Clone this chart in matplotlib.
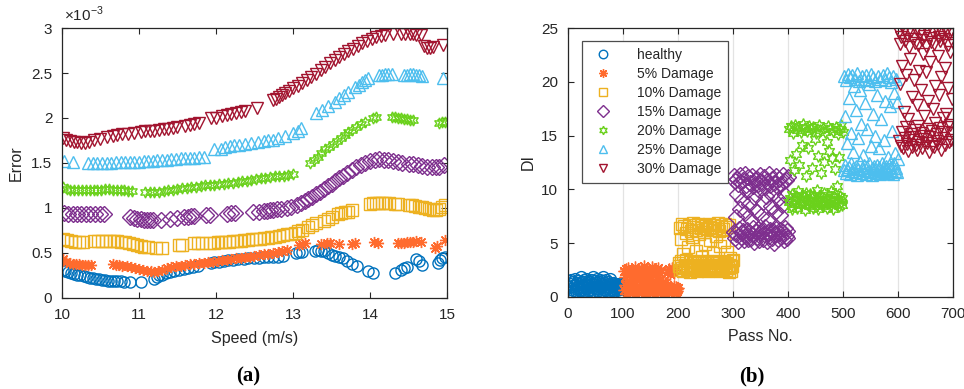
import numpy as np
import matplotlib
matplotlib.use("Agg")
import matplotlib.pyplot as plt
from matplotlib.ticker import FuncFormatter

plt.rcParams['font.family'] = ['Liberation Sans', 'DejaVu Sans']

# series names, colours and markers (MATLAB style)
labels = ["healthy", "5% Damage", "10% Damage", "15% Damage",
          "20% Damage", "25% Damage", "30% Damage"]
colors = ["#0072BD", "#FF6B2E", "#EDB120", "#7E2F8E",
          "#6AD11B", "#4DBEEE", "#A2142F"]
markers = ["o", (8, 2, 0), "s", "D", (6, 1, 0), "^", "v"]

# (a) prediction error against vehicle speed, error in units of 1e-3
speed_h = [10.01, 10.04, 10.08, 10.12, 10.16, 10.2, 10.24, 10.28, 10.32, 10.36,
           10.4, 10.44, 10.48, 10.52, 10.56, 10.6, 10.64, 10.68, 10.72, 10.76,
           10.8, 10.88, 11.03, 11.2, 11.23, 11.26, 11.3, 11.35, 11.4, 11.46,
           11.52, 11.58, 11.64, 11.7, 11.77, 11.94, 11.98, 12.04, 12.1, 12.16,
           12.22, 12.28, 12.36, 12.42, 12.5, 12.56, 12.62, 12.68, 12.74, 12.8,
           12.87, 13.04, 13.08, 13.12, 13.28, 13.32, 13.36, 13.4, 13.45, 13.5,
           13.55, 13.6, 13.65, 13.7, 13.76, 13.83, 13.97, 14.04, 14.32, 14.4,
           14.44, 14.48, 14.6, 14.63, 14.67, 14.88, 14.91, 14.94, 14.97]
err_h = [0.31, 0.30, 0.29, 0.28, 0.27, 0.26, 0.25, 0.24, 0.23, 0.22,
         0.22, 0.21, 0.21, 0.20, 0.20, 0.19, 0.19, 0.19, 0.19, 0.19,
         0.18, 0.18, 0.18, 0.21, 0.23, 0.25, 0.26, 0.28, 0.29, 0.30,
         0.31, 0.32, 0.33, 0.34, 0.35, 0.39, 0.40, 0.40, 0.41, 0.42,
         0.42, 0.43, 0.43, 0.44, 0.44, 0.44, 0.45, 0.45, 0.46, 0.46,
         0.47, 0.50, 0.51, 0.51, 0.52, 0.53, 0.52, 0.52, 0.50, 0.48,
         0.47, 0.46, 0.44, 0.41, 0.38, 0.35, 0.30, 0.28, 0.28, 0.31,
         0.33, 0.34, 0.43, 0.41, 0.37, 0.39, 0.42, 0.44, 0.46]

speed_5 = [10.01, 10.05, 10.1, 10.14, 10.18, 10.22, 10.26, 10.3, 10.34, 10.38,
           10.66, 10.7, 10.74, 10.78, 10.84, 10.9, 10.95, 11.0, 11.05, 11.1,
           11.15, 11.2, 11.25, 11.3, 11.36, 11.42, 11.48, 11.54, 11.6, 11.66,
           11.72, 11.78, 11.84, 11.9, 11.96, 12.02, 12.08, 12.14, 12.2, 12.26,
           12.32, 12.38, 12.44, 12.5, 12.56, 12.62, 12.68, 12.74, 12.8, 12.86,
           12.92, 13.08, 13.12, 13.16, 13.37, 13.44, 13.48, 13.6, 13.76, 13.8,
           14.05, 14.1, 14.36, 14.4, 14.44, 14.48, 14.52, 14.56, 14.6, 14.66,
           14.84, 14.87, 14.97]
err_5 = [0.43, 0.40, 0.39, 0.38, 0.38, 0.38, 0.37, 0.37, 0.37, 0.37,
         0.38, 0.37, 0.37, 0.36, 0.35, 0.34, 0.33, 0.32, 0.31, 0.30,
         0.30, 0.29, 0.30, 0.31, 0.33, 0.34, 0.35, 0.36, 0.37, 0.38,
         0.38, 0.39, 0.39, 0.40, 0.40, 0.41, 0.42, 0.42, 0.43, 0.44,
         0.44, 0.45, 0.46, 0.47, 0.48, 0.49, 0.49, 0.50, 0.51, 0.52,
         0.53, 0.59, 0.60, 0.61, 0.60, 0.61, 0.61, 0.60, 0.60, 0.61,
         0.62, 0.61, 0.61, 0.61, 0.61, 0.62, 0.62, 0.62, 0.63, 0.62,
         0.56, 0.58, 0.64]

speed_10 = [10.01, 10.06, 10.12, 10.17, 10.22, 10.27, 10.42, 10.47, 10.52, 10.57,
            10.62, 10.67, 10.72, 10.77, 10.82, 10.87, 10.92, 10.97, 11.02, 11.07,
            11.12, 11.22, 11.3, 11.52, 11.56, 11.72, 11.77, 11.82, 11.92, 11.97,
            12.02, 12.07, 12.12, 12.17, 12.22, 12.27, 12.32, 12.37, 12.42, 12.47,
            12.52, 12.57, 12.62, 12.67, 12.72, 12.77, 12.82, 12.87, 12.92, 12.97,
            13.02, 13.07, 13.12, 13.2, 13.25, 13.3, 13.4, 13.45, 13.5, 13.58,
            13.62, 13.67, 13.72, 13.77, 14.0, 14.04, 14.08, 14.12, 14.16, 14.2,
            14.25, 14.32, 14.36, 14.5, 14.54, 14.58, 14.63, 14.67, 14.72, 14.77,
            14.82, 14.86, 14.9, 14.94, 14.98]
err_10 = [0.66, 0.64, 0.63, 0.62, 0.62, 0.62, 0.63, 0.63, 0.63, 0.63,
          0.63, 0.63, 0.63, 0.62, 0.62, 0.61, 0.60, 0.59, 0.58, 0.57,
          0.57, 0.56, 0.56, 0.59, 0.59, 0.61, 0.61, 0.61, 0.61, 0.61,
          0.62, 0.62, 0.62, 0.62, 0.63, 0.63, 0.63, 0.64, 0.64, 0.65,
          0.66, 0.66, 0.67, 0.67, 0.68, 0.68, 0.69, 0.70, 0.71, 0.71,
          0.72, 0.74, 0.75, 0.79, 0.81, 0.83, 0.86, 0.88, 0.90, 0.93,
          0.94, 0.95, 0.96, 0.98, 1.04, 1.05, 1.05, 1.05, 1.05, 1.05,
          1.05, 1.04, 1.04, 1.03, 1.03, 1.02, 1.01, 1.01, 1.00, 0.99,
          0.98, 0.98, 0.99, 1.01, 1.03]

speed_15 = [10.03, 10.08, 10.14, 10.19, 10.25, 10.31, 10.37, 10.43, 10.49, 10.55,
            10.88, 10.93, 10.98, 11.02, 11.06, 11.1, 11.14, 11.18, 11.28, 11.4,
            11.5, 11.58, 11.63, 11.67, 11.72, 11.87, 11.92, 12.14, 12.19, 12.25,
            12.48, 12.56, 12.62, 12.66, 12.7, 12.74, 12.79, 12.85, 12.92, 12.97,
            13.05, 13.1, 13.15, 13.2, 13.25, 13.3, 13.35, 13.4, 13.45, 13.5,
            13.55, 13.6, 13.65, 13.7, 13.76, 13.82, 13.88, 13.94, 14.0, 14.06,
            14.12, 14.18, 14.24, 14.3, 14.36, 14.42, 14.5, 14.56, 14.62, 14.68,
            14.74, 14.8, 14.86, 14.9, 14.96]
err_15 = [0.94, 0.93, 0.93, 0.93, 0.93, 0.93, 0.93, 0.93, 0.93, 0.93,
          0.90, 0.89, 0.88, 0.88, 0.87, 0.87, 0.87, 0.87, 0.87, 0.88,
          0.89, 0.90, 0.90, 0.91, 0.91, 0.92, 0.92, 0.93, 0.94, 0.94,
          0.96, 0.96, 0.97, 0.97, 0.98, 0.98, 0.99, 0.99, 1.00, 1.01,
          1.03, 1.05, 1.08, 1.10, 1.12, 1.15, 1.18, 1.21, 1.24, 1.27,
          1.30, 1.33, 1.36, 1.39, 1.42, 1.45, 1.48, 1.50, 1.52, 1.53,
          1.54, 1.53, 1.53, 1.52, 1.51, 1.50, 1.49, 1.49, 1.48, 1.47,
          1.46, 1.45, 1.45, 1.46, 1.48]

speed_20 = [10.01, 10.06, 10.11, 10.16, 10.21, 10.26, 10.31, 10.36, 10.41, 10.46,
            10.51, 10.56, 10.61, 10.66, 10.71, 10.76, 10.81, 10.86, 10.91, 11.08,
            11.14, 11.2, 11.26, 11.32, 11.38, 11.44, 11.5, 11.56, 11.62, 11.68,
            11.74, 11.8, 11.86, 11.92, 11.98, 12.04, 12.1, 12.16, 12.22, 12.28,
            12.34, 12.4, 12.46, 12.52, 12.58, 12.64, 12.7, 12.76, 12.82, 12.88,
            12.94, 13.0, 13.22, 13.27, 13.32, 13.37, 13.42, 13.47, 13.52, 13.57,
            13.62, 13.67, 13.72, 13.77, 13.82, 13.88, 13.94, 14.04, 14.08, 14.28,
            14.32, 14.36, 14.4, 14.44, 14.48, 14.52, 14.56, 14.9, 14.94, 14.98]
err_20 = [1.23, 1.21, 1.20, 1.20, 1.20, 1.20, 1.20, 1.20, 1.20, 1.20,
          1.20, 1.21, 1.21, 1.20, 1.20, 1.20, 1.20, 1.19, 1.19, 1.18,
          1.18, 1.18, 1.18, 1.19, 1.20, 1.20, 1.21, 1.22, 1.22, 1.23,
          1.23, 1.24, 1.25, 1.26, 1.26, 1.27, 1.27, 1.28, 1.28, 1.29,
          1.30, 1.30, 1.31, 1.32, 1.33, 1.33, 1.34, 1.35, 1.35, 1.36,
          1.37, 1.38, 1.50, 1.53, 1.57, 1.61, 1.65, 1.68, 1.71, 1.74,
          1.78, 1.81, 1.84, 1.87, 1.90, 1.93, 1.96, 2.00, 2.01, 2.01,
          2.01, 2.00, 2.00, 1.99, 1.99, 1.98, 1.98, 1.94, 1.95, 1.96]

speed_25 = [10.02, 10.14, 10.34, 10.4, 10.46, 10.52, 10.58, 10.64, 10.7, 10.76,
            10.82, 10.88, 10.94, 11.0, 11.06, 11.12, 11.18, 11.24, 11.3, 11.36,
            11.42, 11.48, 11.54, 11.6, 11.66, 11.72, 11.78, 11.84, 11.98, 12.06,
            12.12, 12.18, 12.24, 12.3, 12.38, 12.46, 12.54, 12.62, 12.68, 12.74,
            12.8, 12.9, 13.0, 13.06, 13.1, 13.3, 13.38, 13.46, 13.54, 13.6,
            13.66, 13.72, 13.8, 13.86, 13.9, 13.94, 13.98, 14.12, 14.16, 14.2,
            14.24, 14.28, 14.44, 14.48, 14.52, 14.56, 14.6, 14.64, 14.68, 14.95]
err_25 = [1.52, 1.51, 1.50, 1.50, 1.50, 1.50, 1.50, 1.50, 1.51, 1.51,
          1.51, 1.51, 1.51, 1.51, 1.52, 1.52, 1.52, 1.53, 1.53, 1.53,
          1.54, 1.54, 1.55, 1.55, 1.56, 1.56, 1.57, 1.57, 1.65, 1.66,
          1.68, 1.69, 1.70, 1.70, 1.71, 1.72, 1.73, 1.74, 1.75, 1.76,
          1.78, 1.80, 1.83, 1.86, 1.89, 2.05, 2.09, 2.13, 2.18, 2.22,
          2.26, 2.29, 2.34, 2.37, 2.40, 2.42, 2.44, 2.48, 2.48, 2.49,
          2.49, 2.49, 2.48, 2.48, 2.49, 2.49, 2.48, 2.48, 2.47, 2.45]

speed_30 = [10.01, 10.05, 10.1, 10.15, 10.2, 10.25, 10.3, 10.35, 10.42, 10.5,
            10.58, 10.66, 10.72, 10.78, 10.86, 10.94, 11.02, 11.08, 11.14, 11.2,
            11.26, 11.32, 11.38, 11.44, 11.5, 11.6, 11.66, 11.72, 11.78, 11.94,
            12.0, 12.08, 12.14, 12.2, 12.26, 12.32, 12.38, 12.53, 12.74, 12.78,
            12.82, 12.86, 12.9, 12.95, 13.0, 13.06, 13.12, 13.18, 13.24, 13.3,
            13.36, 13.42, 13.48, 13.54, 13.6, 13.66, 13.72, 13.78, 13.84, 13.9,
            13.96, 14.02, 14.08, 14.14, 14.2, 14.3, 14.4, 14.46, 14.52, 14.56,
            14.6, 14.66, 14.7, 14.74, 14.78, 14.82, 14.95]
err_30 = [1.78, 1.75, 1.74, 1.73, 1.73, 1.72, 1.72, 1.73, 1.76, 1.77,
          1.79, 1.80, 1.81, 1.82, 1.82, 1.83, 1.84, 1.85, 1.85, 1.86,
          1.87, 1.88, 1.88, 1.89, 1.90, 1.91, 1.92, 1.93, 1.94, 2.00,
          2.00, 2.02, 2.03, 2.04, 2.05, 2.07, 2.08, 2.11, 2.20, 2.21,
          2.23, 2.25, 2.28, 2.30, 2.33, 2.36, 2.39, 2.42, 2.46, 2.49,
          2.53, 2.57, 2.61, 2.64, 2.68, 2.71, 2.74, 2.77, 2.80, 2.83,
          2.86, 2.88, 2.90, 2.91, 2.92, 2.93, 2.93, 2.93, 2.93, 2.93,
          2.92, 2.92, 2.80, 2.78, 2.78, 2.79, 2.81]

# (b) damage index per pass, 100 passes per damage state
di_h = [0.9, 1.5, 0.4, 1.2, 0.7, 1.6, 0.3, 1.0, 1.4, 0.6, 0.2, 1.1, 1.7, 0.5, 0.8, 1.3, 0.4, 1.5, 0.9, 0.3,
        1.2, 0.6, 1.8, 0.7, 1.0, 0.4, 1.4, 0.9, 1.6, 0.5, 1.1, 0.3, 1.7, 0.8, 1.3, 0.6, 1.5, 0.2, 1.0, 1.4,
        0.7, 1.6, 0.4, 1.2, 0.9, 1.8, 0.5, 1.1, 1.5, 0.3, 1.3, 0.8, 1.7, 0.6, 1.0, 1.4, 0.4, 1.6, 0.9, 1.2,
        0.5, 1.5, 0.7, 1.8, 0.3, 1.1, 1.3, 0.6, 1.6, 0.8, 1.0, 0.4, 1.4, 0.9, 1.2, 0.5, 1.7, 0.7, 1.1, 0.6,
        1.3, 0.8, 1.0, 0.5, 1.2, 0.9, 1.1, 0.7, 1.0, 0.6, 1.2, 0.8, 0.9, 1.1, 0.7, 1.0, 0.8, 1.2, 0.9, 1.0]
di_5 = [2.4, 0.6, 1.8, 1.1, 2.6, 0.3, 1.5, 2.1, 0.8, 2.7, 1.3, 0.5, 2.2, 1.7, 0.9, 2.5, 0.4, 1.2, 2.0, 0.7,
        2.8, 1.4, 0.3, 1.9, 2.3, 1.0, 0.6, 2.6, 1.6, 0.4, 2.1, 1.2, 2.7, 0.8, 1.5, 2.4, 0.5, 1.8, 2.9, 1.1,
        0.3, 2.2, 1.4, 2.6, 0.7, 1.9, 2.5, 1.0, 0.4, 2.3, 1.7, 2.8, 0.6, 1.3, 2.0, 0.9, 2.6, 1.5, 0.2, 2.4,
        1.1, 0.5, 1.8, 2.7, 0.8, 1.6, 2.2, 0.4, 1.2, 2.5, 0.7, 1.4, 0.3, 1.0, 0.6, 1.3, 0.4, 0.9, 0.5, 1.1,
        0.7, 2.3, 0.4, 2.6, 0.9, 2.1, 0.6, 2.4, 0.8, 2.7, 0.5, 2.2, 1.0, 2.5, 0.6, 0.9, 0.4, 0.7, 0.5, 0.8]
di_10 = [2.9, 3.1, 6.4, 2.5, 5.4, 3.3, 2.7, 6.8, 4.0, 2.4, 6.6, 3.0, 2.8, 5.9, 3.4, 2.6, 6.3, 4.6, 2.9, 6.7,
         3.2, 2.3, 6.1, 2.8, 5.6, 3.0, 6.9, 2.5, 3.3, 6.5, 2.7, 4.3, 6.2, 3.1, 2.4, 6.8, 2.9, 5.8, 3.2, 2.6,
         6.4, 3.0, 3.7, 6.7, 2.8, 2.5, 6.0, 3.1, 4.9, 6.6, 2.7, 3.3, 6.3, 2.4, 2.9, 6.8, 3.0, 5.3, 6.5, 2.6,
         3.2, 6.2, 2.8, 4.1, 6.7, 3.0, 2.5, 6.4, 2.9, 5.7, 3.1, 6.9, 2.7, 3.3, 6.1, 2.4, 4.7, 6.6, 2.8, 3.0,
         6.3, 2.6, 3.2, 5.1, 2.9, 6.8, 2.5, 3.1, 6.5, 4.2, 2.7, 2.3, 6.7, 3.0, 3.6, 2.8, 2.4, 3.3, 2.9, 3.4]
di_15 = [6.0, 11.2, 5.5, 10.8, 7.4, 5.8, 11.0, 9.6, 5.2, 10.5, 6.3, 8.2, 11.3, 5.6, 10.7, 5.9, 9.0, 6.1, 10.9, 5.3,
         7.8, 11.4, 5.7, 10.4, 6.2, 9.8, 5.4, 11.1, 6.0, 8.6, 10.6, 5.5, 7.1, 11.2, 5.8, 10.3, 6.4, 9.3, 5.1, 10.9,
         6.0, 8.0, 11.0, 5.6, 10.5, 6.3, 9.9, 5.3, 11.3, 5.9, 7.5, 10.7, 6.1, 8.8, 5.4, 11.1, 5.8, 10.2, 6.5, 9.4,
         5.2, 10.8, 6.0, 7.2, 11.4, 5.7, 10.4, 6.2, 8.4, 5.5, 11.0, 6.1, 9.7, 5.0, 10.6, 5.8, 7.9, 11.2, 6.3, 10.3,
         5.4, 9.1, 5.9, 11.0, 6.2, 7.6, 10.5, 5.6, 8.5, 11.3, 6.0, 5.3, 10.8, 6.4, 9.5, 5.7, 10.9, 6.1, 5.5, 11.1]
di_20 = [8.8, 15.6, 9.2, 12.7, 8.4, 15.9, 9.6, 8.2, 15.2, 11.8, 9.0, 16.0, 8.6, 13.3, 9.4, 15.5, 8.3, 9.8, 15.8, 12.3,
         8.7, 9.1, 15.3, 8.5, 14.1, 9.5, 16.1, 8.9, 9.3, 15.7, 8.1, 11.2, 9.7, 15.4, 8.6, 9.0, 13.8, 15.9, 8.4, 9.6,
         8.8, 15.6, 9.2, 12.0, 8.3, 15.8, 9.5, 8.7, 14.7, 9.0, 15.2, 8.5, 9.9, 13.1, 8.2, 16.0, 9.4, 8.9, 15.5, 11.5,
         8.6, 9.3, 15.7, 8.4, 12.5, 9.7, 15.3, 8.8, 9.1, 14.4, 8.3, 15.9, 9.5, 8.7, 13.6, 9.0, 15.6, 8.5, 9.8, 12.9,
         8.2, 15.4, 9.3, 8.9, 11.9, 9.6, 15.8, 8.6, 10.3, 9.1, 15.1, 8.4, 13.0, 9.4, 15.6, 8.8, 16.0, 9.2, 8.5, 15.3]
di_25 = [11.8, 20.5, 12.3, 16.8, 11.5, 20.2, 14.3, 11.9, 20.7, 12.1, 18.5, 11.4, 20.4, 15.2, 12.4, 11.7, 20.6, 13.5, 12.0, 19.6,
         11.6, 20.3, 17.4, 12.2, 11.3, 20.8, 14.8, 11.9, 20.1, 12.5, 19.2, 11.5, 16.1, 20.5, 12.0, 11.8, 13.2, 20.3, 12.3, 18.0,
         11.4, 20.6, 12.1, 15.6, 11.7, 20.2, 12.4, 19.8, 11.6, 14.0, 20.7, 12.0, 11.3, 17.0, 20.4, 12.2, 11.9, 15.0, 20.1, 11.5,
         12.3, 18.8, 11.8, 20.5, 13.8, 12.1, 11.4, 20.3, 16.5, 12.4, 11.7, 20.6, 12.0, 14.6, 11.6, 20.2, 18.2, 12.2, 11.9, 20.8,
         13.0, 11.5, 20.4, 12.3, 17.7, 11.8, 20.0, 12.1, 15.4, 11.4, 20.5, 12.4, 19.0, 11.7, 13.4, 20.3, 12.0, 18.1, 11.6, 12.8]
di_30 = [24.6, 14.5, 23.5, 19.8, 14.0, 24.2, 15.3, 21.5, 13.8, 24.8, 17.2, 14.8, 23.8, 15.8, 20.6, 14.2, 24.4, 16.5, 13.6, 23.2,
         22.1, 14.9, 24.7, 15.1, 18.6, 13.9, 24.0, 14.6, 20.2, 23.6, 15.5, 14.1, 24.9, 17.8, 13.7, 23.4, 15.9, 21.0, 14.4, 24.5,
         19.2, 15.2, 23.9, 13.8, 22.6, 14.7, 24.3, 16.8, 15.0, 23.3, 20.9, 14.3, 24.8, 15.6, 18.2, 13.5, 24.1, 14.9, 21.8, 23.7,
         15.4, 14.0, 24.6, 17.5, 13.9, 23.5, 16.2, 19.6, 14.5, 24.9, 15.1, 22.4, 14.2, 24.2, 18.8, 15.7, 23.8, 13.7, 20.4, 24.5,
         14.8, 16.6, 24.0, 15.3, 21.3, 14.1, 24.7, 17.0, 15.8, 23.4, 19.4, 14.4, 24.4, 16.0, 22.8, 14.6, 24.8, 18.4, 15.2, 23.6]

speeds = [speed_h, speed_5, speed_10, speed_15, speed_20, speed_25, speed_30]
errors = [err_h, err_5, err_10, err_15, err_20, err_25, err_30]
damage_index = [di_h, di_5, di_10, di_15, di_20, di_25, di_30]

TEXT_COLOR = "#262626"


def style_axes(ax):
    ax.tick_params(direction="in", top=True, right=True, length=4, width=0.8,
                   labelsize=11, colors=TEXT_COLOR, pad=7)
    for sp in ax.spines.values():
        sp.set_color(TEXT_COLOR)
        sp.set_linewidth(0.9)


def draw_figure(output_filename="out.png"):
    fig = plt.figure(figsize=(9.64, 3.89), dpi=100)
    ax1 = fig.add_axes([0.0643, 0.234, 0.3994, 0.694])
    ax2 = fig.add_axes([0.5892, 0.237, 0.3994, 0.691])

    # error vs speed
    for spd, err, c, m in zip(speeds, errors, colors, markers):
        ax1.plot(spd, np.array(err) * 1e-3, linestyle="none", marker=m, ms=8,
                 mfc="none", mec=c, mew=1.0)
    ax1.set_xlim(10, 15)
    ax1.set_ylim(0, 3e-3)
    ax1.set_xticks([10, 11, 12, 13, 14, 15])
    ax1.set_yticks(np.arange(0, 3.01e-3, 0.5e-3))
    ax1.yaxis.set_major_formatter(FuncFormatter(lambda v, p: f"{v * 1e3:g}"))
    ax1.text(0.005, 1.015, "\u00d710$^{\\mathregular{-3}}$", transform=ax1.transAxes,
             ha="left", va="bottom", fontsize=11, color=TEXT_COLOR)
    ax1.set_xlabel("Speed (m/s)", fontsize=11.5, color=TEXT_COLOR, labelpad=7)
    ax1.set_ylabel("Error", fontsize=11.5, color=TEXT_COLOR, labelpad=5)
    style_axes(ax1)

    # damage index vs pass number
    for k, (di, c, m, lab) in enumerate(zip(damage_index, colors, markers, labels)):
        passes = np.arange(1, len(di) + 1) + 100 * k
        ax2.plot(passes, di, linestyle="none", marker=m, ms=8.5,
                 mfc="none", mec=c, mew=1.0, label=lab)
    ax2.set_xlim(0, 700)
    ax2.set_ylim(0, 25)
    ax2.set_xticks(np.arange(0, 701, 100))
    ax2.set_yticks(np.arange(0, 26, 5))
    ax2.grid(axis="x", color="#e3e3e3", linewidth=0.9)
    ax2.set_axisbelow(True)
    ax2.set_xlabel("Pass No.", fontsize=11.5, color=TEXT_COLOR, labelpad=6)
    ax2.set_ylabel("DI", fontsize=11.5, color=TEXT_COLOR, labelpad=4)
    style_axes(ax2)
    leg = ax2.legend(loc="upper left", bbox_to_anchor=(0.036, 0.952), borderaxespad=0,
                     fontsize=10, markerscale=0.72, handlelength=2.0, handletextpad=1.45,
                     labelspacing=0.36, borderpad=0.5, fancybox=False, framealpha=1)
    leg.get_frame().set_edgecolor("#4d4d4d")
    leg.get_frame().set_linewidth(0.9)
    for t in leg.get_texts():
        t.set_color(TEXT_COLOR)

    # panel captions
    cap_font = dict(family=["Liberation Serif", "DejaVu Serif"], fontsize=15, fontweight="bold")
    fig.text(0.257, 0.032, "(a)", ha="center", va="center", **cap_font)
    fig.text(0.780, 0.032, "(b)", ha="center", va="center", **cap_font)

    fig.savefig(output_filename, dpi=100)
    plt.close(fig)


if __name__ == "__main__":
    draw_figure("out.png")
